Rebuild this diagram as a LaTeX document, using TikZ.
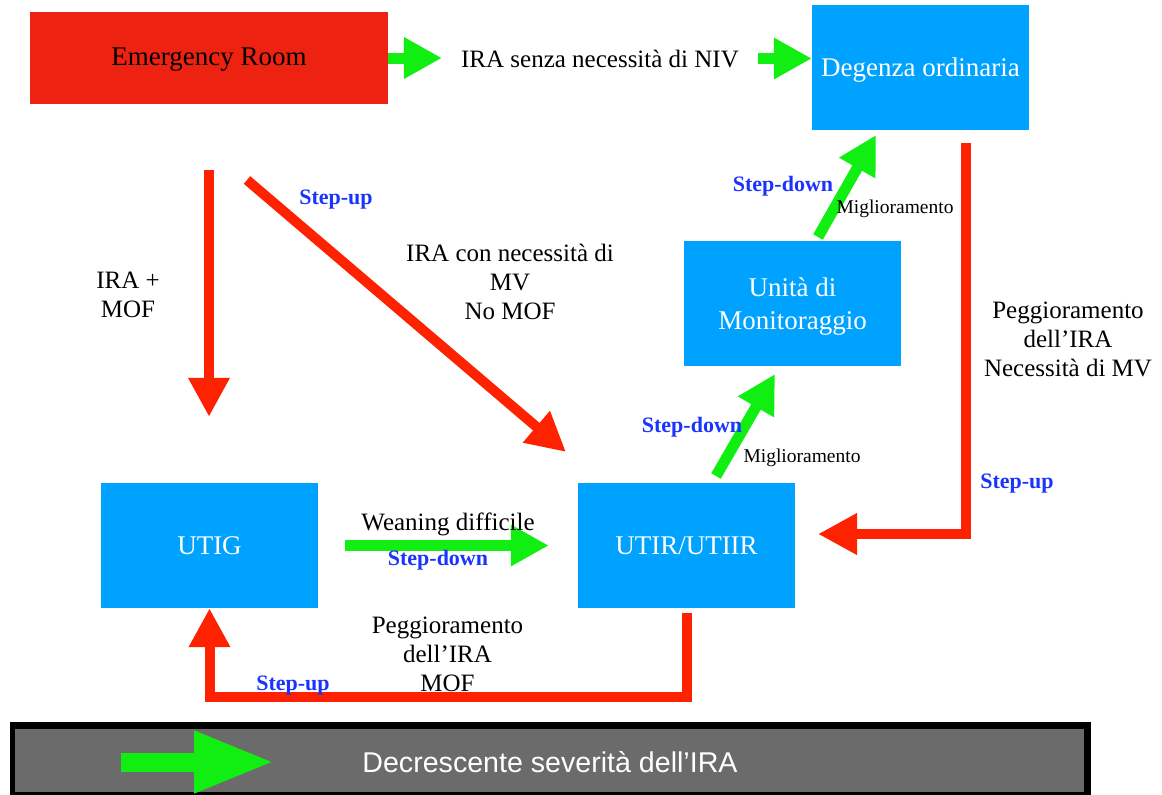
\documentclass[tikz,border=0pt]{standalone}
\usepackage{fontspec}
\setmainfont{Liberation Serif}
\setsansfont{Liberation Sans}
\usetikzlibrary{arrows.meta,calc}
\definecolor{boxblue}{HTML}{00A2FF}
\definecolor{errred}{HTML}{EE2211}
\definecolor{arred}{HTML}{FF2200}
\definecolor{agreen}{HTML}{11EE11}
\definecolor{lblue}{HTML}{1A33FF}
\definecolor{bargray}{HTML}{6B6B6B}
\begin{document}
\begin{tikzpicture}[x=1pt,y=-1pt,
 box/.style={fill=boxblue, minimum width=217pt, minimum height=125pt, inner sep=0pt, text=white, font=\fontsize{27}{33}\selectfont, align=center, text depth=0pt},
 redarrow/.style={draw=arred, line width=10pt, -{Triangle[length=39pt,width=39pt]}},
 greenarrow/.style={draw=agreen, line width=11pt, -{Triangle[length=38pt,width=39pt]}},
 lbl/.style={font=\fontsize{25}{29}\selectfont, align=center, inner sep=0pt},
 smalllbl/.style={font=\fontsize{19.5}{22}\selectfont, inner sep=0pt},
 stepl/.style={font=\fontsize{22}{24}\selectfont\bfseries, text=lblue, inner sep=0pt},
]
\useasboundingbox (0,0) rectangle (1162,795);

% boxes
\node[fill=errred, minimum width=358pt, minimum height=92pt, inner sep=0pt, text height=14pt, text depth=0pt, font=\fontsize{27}{33}\selectfont] (er) at (209,58) {Emergency Room};
\node[box] (deg) at (920.5,67.5) {Degenza ordinaria};
\node[box] (mon) at (792.5,303.5) {Unità di\\Monitoraggio};
\node[box] (utig) at (209.5,545.5) {UTIG};
\node[box] (utir) at (686.5,545.5) {UTIR/UTIIR};

\node[lbl, inner xsep=19pt] (niv) at (600,58.5) {IRA senza necessità di NIV};

% coordinates for free ends
\coordinate (dg1) at (247,180);
\coordinate (dg2) at (566,452);
\coordinate (dd1) at (966,143);
\coordinate (dd2) at (818,534);
\coordinate (g1) at (716,476);
\coordinate (g2) at (775,374);
\coordinate (g3) at (818,237);
\coordinate (g4) at (876,135);

% green arrows
\draw[greenarrow] (er.east) -- (er.east -| niv.west);
\draw[greenarrow] (niv.east) -- (niv.east -| deg.west);
\draw[greenarrow] (g1) -- (g2);
\draw[greenarrow] (g3) -- (g4);
\draw[greenarrow, shorten <=27pt, shorten >=29pt] (utig.east) -- (utir.west);

% red arrows
\draw[redarrow, shorten <=66pt, shorten >=66pt] (er.south) -- (er.south |- utig.north);
\draw[redarrow] (dg1) -- (dg2);
\draw[redarrow] (dd1) |- (dd2);
\draw[redarrow, shorten <=5pt] (utir.south) -- ++(0,89) -| (utig.south);

% labels
\node[lbl] (iramof) at (128,294.5) {IRA +\\MOF};
\node[stepl, anchor=base] (su1) at (336,204) {Step-up};
\node[lbl] (iracon) at (510,281.5) {IRA con necessità di\\MV\\No MOF};
\node[stepl, anchor=base] (sd1) at (783,191) {Step-down};
\node[smalllbl, anchor=base] (mig1) at (895,213) {Miglioramento};
\node[stepl, anchor=base] (sd2) at (692,432) {Step-down};
\node[smalllbl, anchor=base] (mig2) at (802,462) {Miglioramento};
\node[lbl] (pegg1) at (1068,339.5) {Peggioramento\\dell’IRA\\Necessità di MV};
\node[stepl, anchor=base] (su2) at (1017,488) {Step-up};
\node[lbl, anchor=base] (wean) at (448,530) {Weaning difficile};
\node[stepl, anchor=base] (sd3) at (438,565) {Step-down};
\node[lbl] (pegg2) at (447.5,654) {Peggioramento\\dell’IRA\\MOF};
\node[stepl, anchor=base] (su3) at (293,690) {Step-up};

% legend bar
\fill[black] (10,722) rectangle (1091,795);
\fill[bargray] (15,729) rectangle (1084,792);
\coordinate (la1) at (121,762);
\coordinate (la2) at (275,762);
\draw[draw=agreen, line width=19pt, -{Triangle[length=81pt,width=57pt]}] (la1) -- (la2);
\node[font=\sffamily\fontsize{28.6}{31}\selectfont, text=white, anchor=base, inner sep=0pt] (sev) at (550,772) {Decrescente severità dell’IRA};
\end{tikzpicture}
\end{document}
